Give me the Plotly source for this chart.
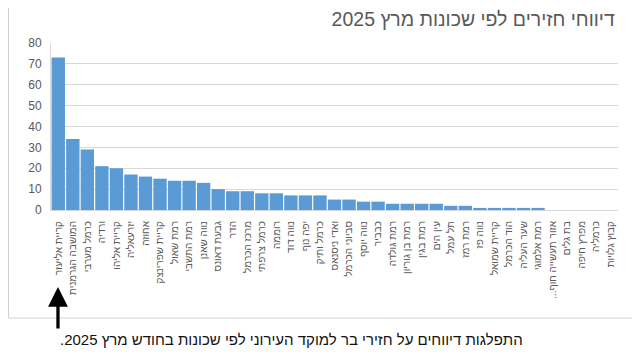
import plotly.graph_objects as go

RLM = "\u200f"

neighborhoods = [
    "קריית אליעזר", "המושבה הגרמנית", "כרמל מערבי", "ורדיה", "קריית אליהו",
    "יזרעאליה", "אחוזה", "קריית שפרינצק", "רמת שאול", "רמת התשבי",
    "נווה שאנן", "גבעת דאונס", "הדר", "מרכז הכרמל", "כרמל צרפתי",
    "רוממה", "נווה דוד", "יפה נוף", "כרמל ותיק", "ואדי ניסנאס",
    "סביוני הכרמל", "נווה יוסף", "כבביר", "רמת גולדה", "רמת בן גוריון",
    "רמת בגין", "עין הים", "תל עמל", "רמת רמז", "נווה פז",
    "קריית שמואל", "הוד הכרמל", "שער העליה", "רמת אלמוגי", "אזור תעשייה חוף...",
    "בת גלים", "מפרץ חיפה", "כרמליה", "קבוץ גלויות",
]

reports = [
    73, 34, 29, 21, 20,
    17, 16, 15, 14, 14,
    13, 10, 9, 9, 8,
    8, 7, 7, 7, 5,
    5, 4, 4, 3, 3,
    3, 3, 2, 2, 1,
    1, 1, 1, 1, 0,
    0, 0, 0, 0,
]

y_ticks = [0, 10, 20, 30, 40, 50, 60, 70, 80]

title_text = "דיווחי חזירים לפי שכונות מרץ 2025"
caption_text = "התפלגות דיווחים על חזירי בר למוקד העירוני לפי שכונות בחודש מרץ 2025."

FONT = "Liberation Sans, Arial, DejaVu Sans, sans-serif"

labels = [n + RLM for n in neighborhoods]

fig = go.Figure(
    go.Bar(
        x=labels,
        y=reports,
        marker=dict(color="#5b9bd5", line=dict(width=0)),
        hoverinfo="x+y",
    )
)

# the page body has an 8px margin, so the figure is laid out 8px up/left
fig.update_layout(
    width=640,
    height=360,
    margin=dict(l=43, r=30, t=35, b=158),
    paper_bgcolor="white",
    plot_bgcolor="white",
    bargap=0.08,
    showlegend=False,
    font=dict(family=FONT, color="#595959"),
    title=dict(
        text=title_text,
        x=0.948,
        xanchor="right",
        xref="container",
        y=0.968,
        yanchor="middle",
        yref="container",
        font=dict(size=19.5, color="#595959", family=FONT),
    ),
)

fig.update_xaxes(
    tickangle=-90,
    tickfont=dict(size=10, color="#595959", family=FONT),
    showgrid=False,
    showline=True,
    linecolor="#d9d9d9",
    linewidth=1,
    ticks="",
    ticklabelstandoff=6,
    fixedrange=True,
)

fig.update_yaxes(
    range=[0, 80],
    tickvals=y_ticks,
    tickfont=dict(size=12, color="#595959", family=FONT),
    showgrid=True,
    gridcolor="#d9d9d9",
    gridwidth=1,
    zeroline=False,
    showline=True,
    linecolor="#d9d9d9",
    linewidth=1,
    ticks="",
    ticklabelstandoff=6,
    fixedrange=True,
)

# frame of the chart picture
fig.add_shape(type="line", xref="paper", yref="paper",
              x0=-0.075, x1=-0.075, y0=1.3, y1=-0.647,
              line=dict(color="#d0d0d0", width=1))
fig.add_shape(type="line", xref="paper", yref="paper",
              x0=-0.075, x1=1.06, y0=-0.647, y1=-0.647,
              line=dict(color="#d0d0d0", width=1))

# caption below chart
fig.add_annotation(
    text=RLM + caption_text + RLM,
    xref="paper", yref="paper",
    x=0.0123, xanchor="left",
    y=-0.778, yanchor="middle",
    showarrow=False,
    font=dict(size=15, color="#111111", family=FONT),
)

# black arrow pointing to the first label
fig.add_annotation(
    text="",
    xref="paper", yref="paper",
    x=0.0123, y=-0.461,
    ax=0, ay=43,
    showarrow=True,
    arrowhead=2,
    arrowsize=1.2,
    arrowwidth=3.3,
    arrowcolor="#000000",
)

fig.write_html("out.html")
